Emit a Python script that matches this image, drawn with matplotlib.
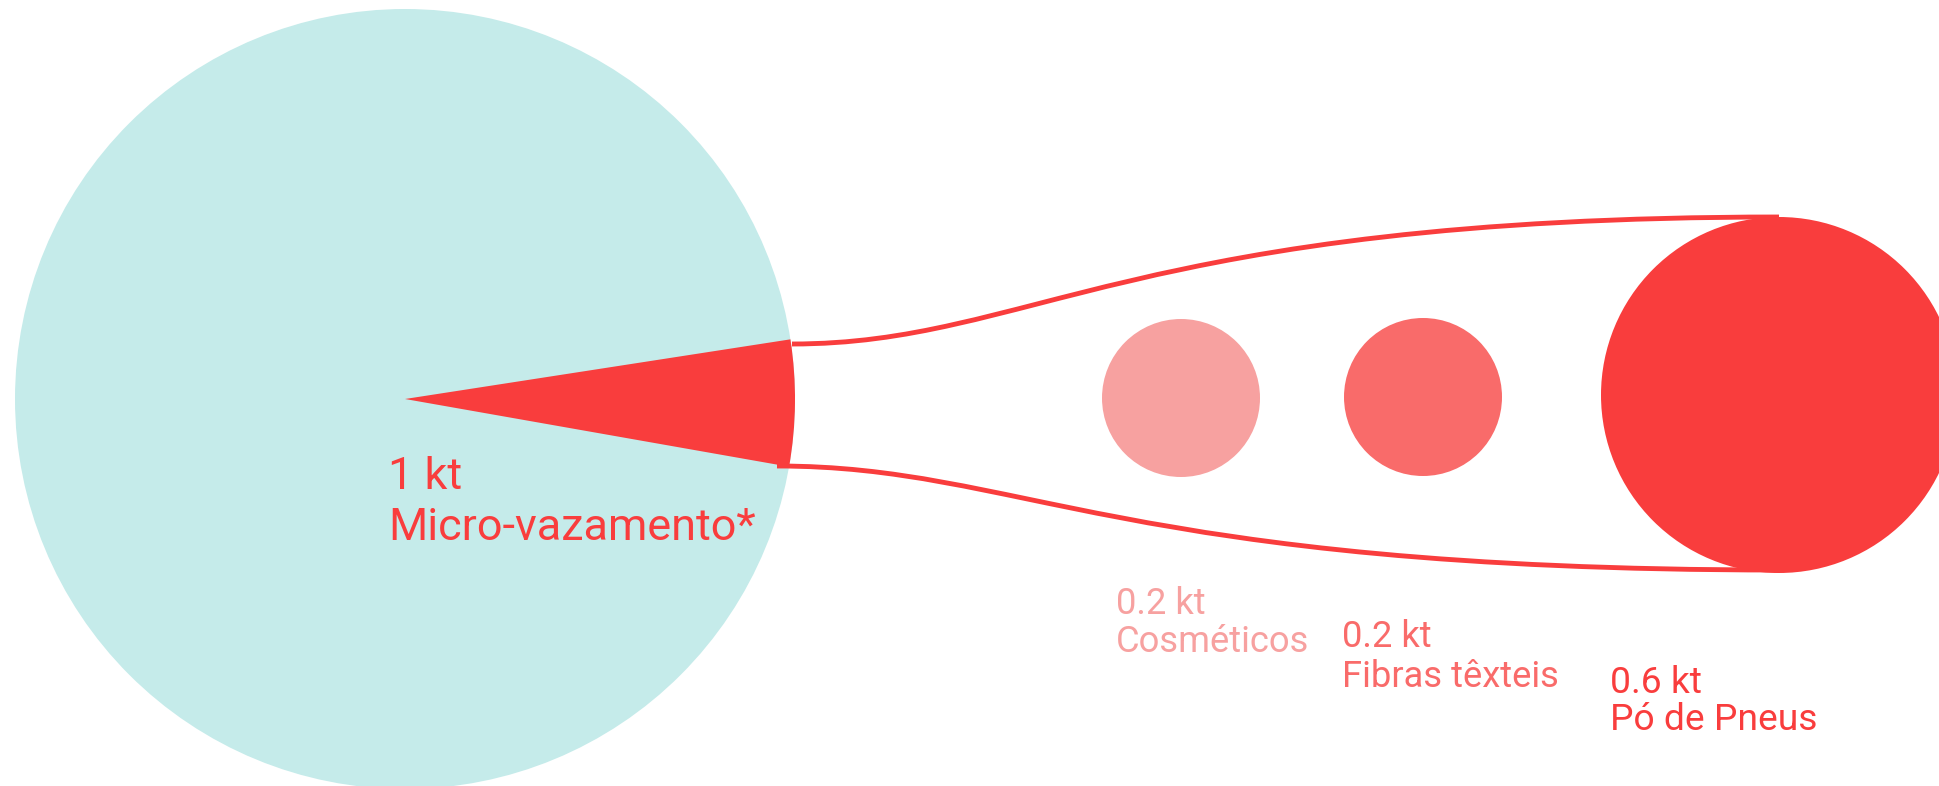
import matplotlib
matplotlib.use("Agg")
import matplotlib.pyplot as plt
from matplotlib.patches import Circle, Wedge, PathPatch
from matplotlib.path import Path

# ---- data ----
source_label = "Micro-vazamento*"
source_value_label = "1 kt"
categories = ["Cosméticos", "Fibras têxteis", "Pó de Pneus"]
values = [0.2, 0.2, 0.6]
value_labels = ["0.2 kt", "0.2 kt", "0.6 kt"]
colors = ["#F7A1A0", "#F96B6A", "#F93D3D"]

# ---- layout ----
W, H = 1939, 786
TEAL = "#C5EBEA"
RED = "#F93D3D"

fig = plt.figure(figsize=(W / 100, H / 100), dpi=100)
ax = fig.add_axes([0, 0, 1, 1])
ax.set_xlim(0, W)
ax.set_ylim(H, 0)
ax.axis("off")

big_c, big_r = (405, 399), 390
ax.add_patch(Circle(big_c, big_r, color=TEAL, lw=0, zorder=1))
ax.add_patch(Wedge(big_c, big_r, -8.8, 10.0, color=RED, lw=0, zorder=2))

# connector curves
def bez(p0, p1, p2, p3):
    return Path([p0, p1, p2, p3], [Path.MOVETO, Path.CURVE4, Path.CURVE4, Path.CURVE4])

top = bez((792, 344), (1030, 344), (1130, 217), (1779, 217))
bot = bez((777, 466), (1020, 466), (1120, 570), (1779, 570))
for p in (top, bot):
    ax.add_patch(PathPatch(p, fc="none", ec=RED, lw=3.5, capstyle="butt", zorder=3))

# category circles
centers = [(1181, 398), (1423, 397), (1779, 395)]
radii = [79, 79, 178]
for (cx, cy), r, col in zip(centers, radii, colors):
    ax.add_patch(Circle((cx, cy), r, color=col, lw=0, zorder=4))

font = ["Roboto", "DejaVu Sans"]

# source labels
ax.text(388, 489, source_value_label, color=RED, fontsize=32.4, family=font, va="baseline", ha="left")
ax.text(388, 540, source_label, color=RED, fontsize=32.4, family=font, va="baseline", ha="left")

# category labels
lab_pos = [(1116, 614, 652, 26.2), (1342, 647, 687, 26.2), (1610, 693, 730, 26.8)]
for (x, y1, y2, fs), cat, vl, col in zip(lab_pos, categories, value_labels, colors):
    ax.text(x, y1, vl, color=col, fontsize=fs, family=font, va="baseline", ha="left")
    ax.text(x, y2, cat, color=col, fontsize=fs, family=font, va="baseline", ha="left")

fig.savefig("out.png", dpi=100, facecolor="white")
